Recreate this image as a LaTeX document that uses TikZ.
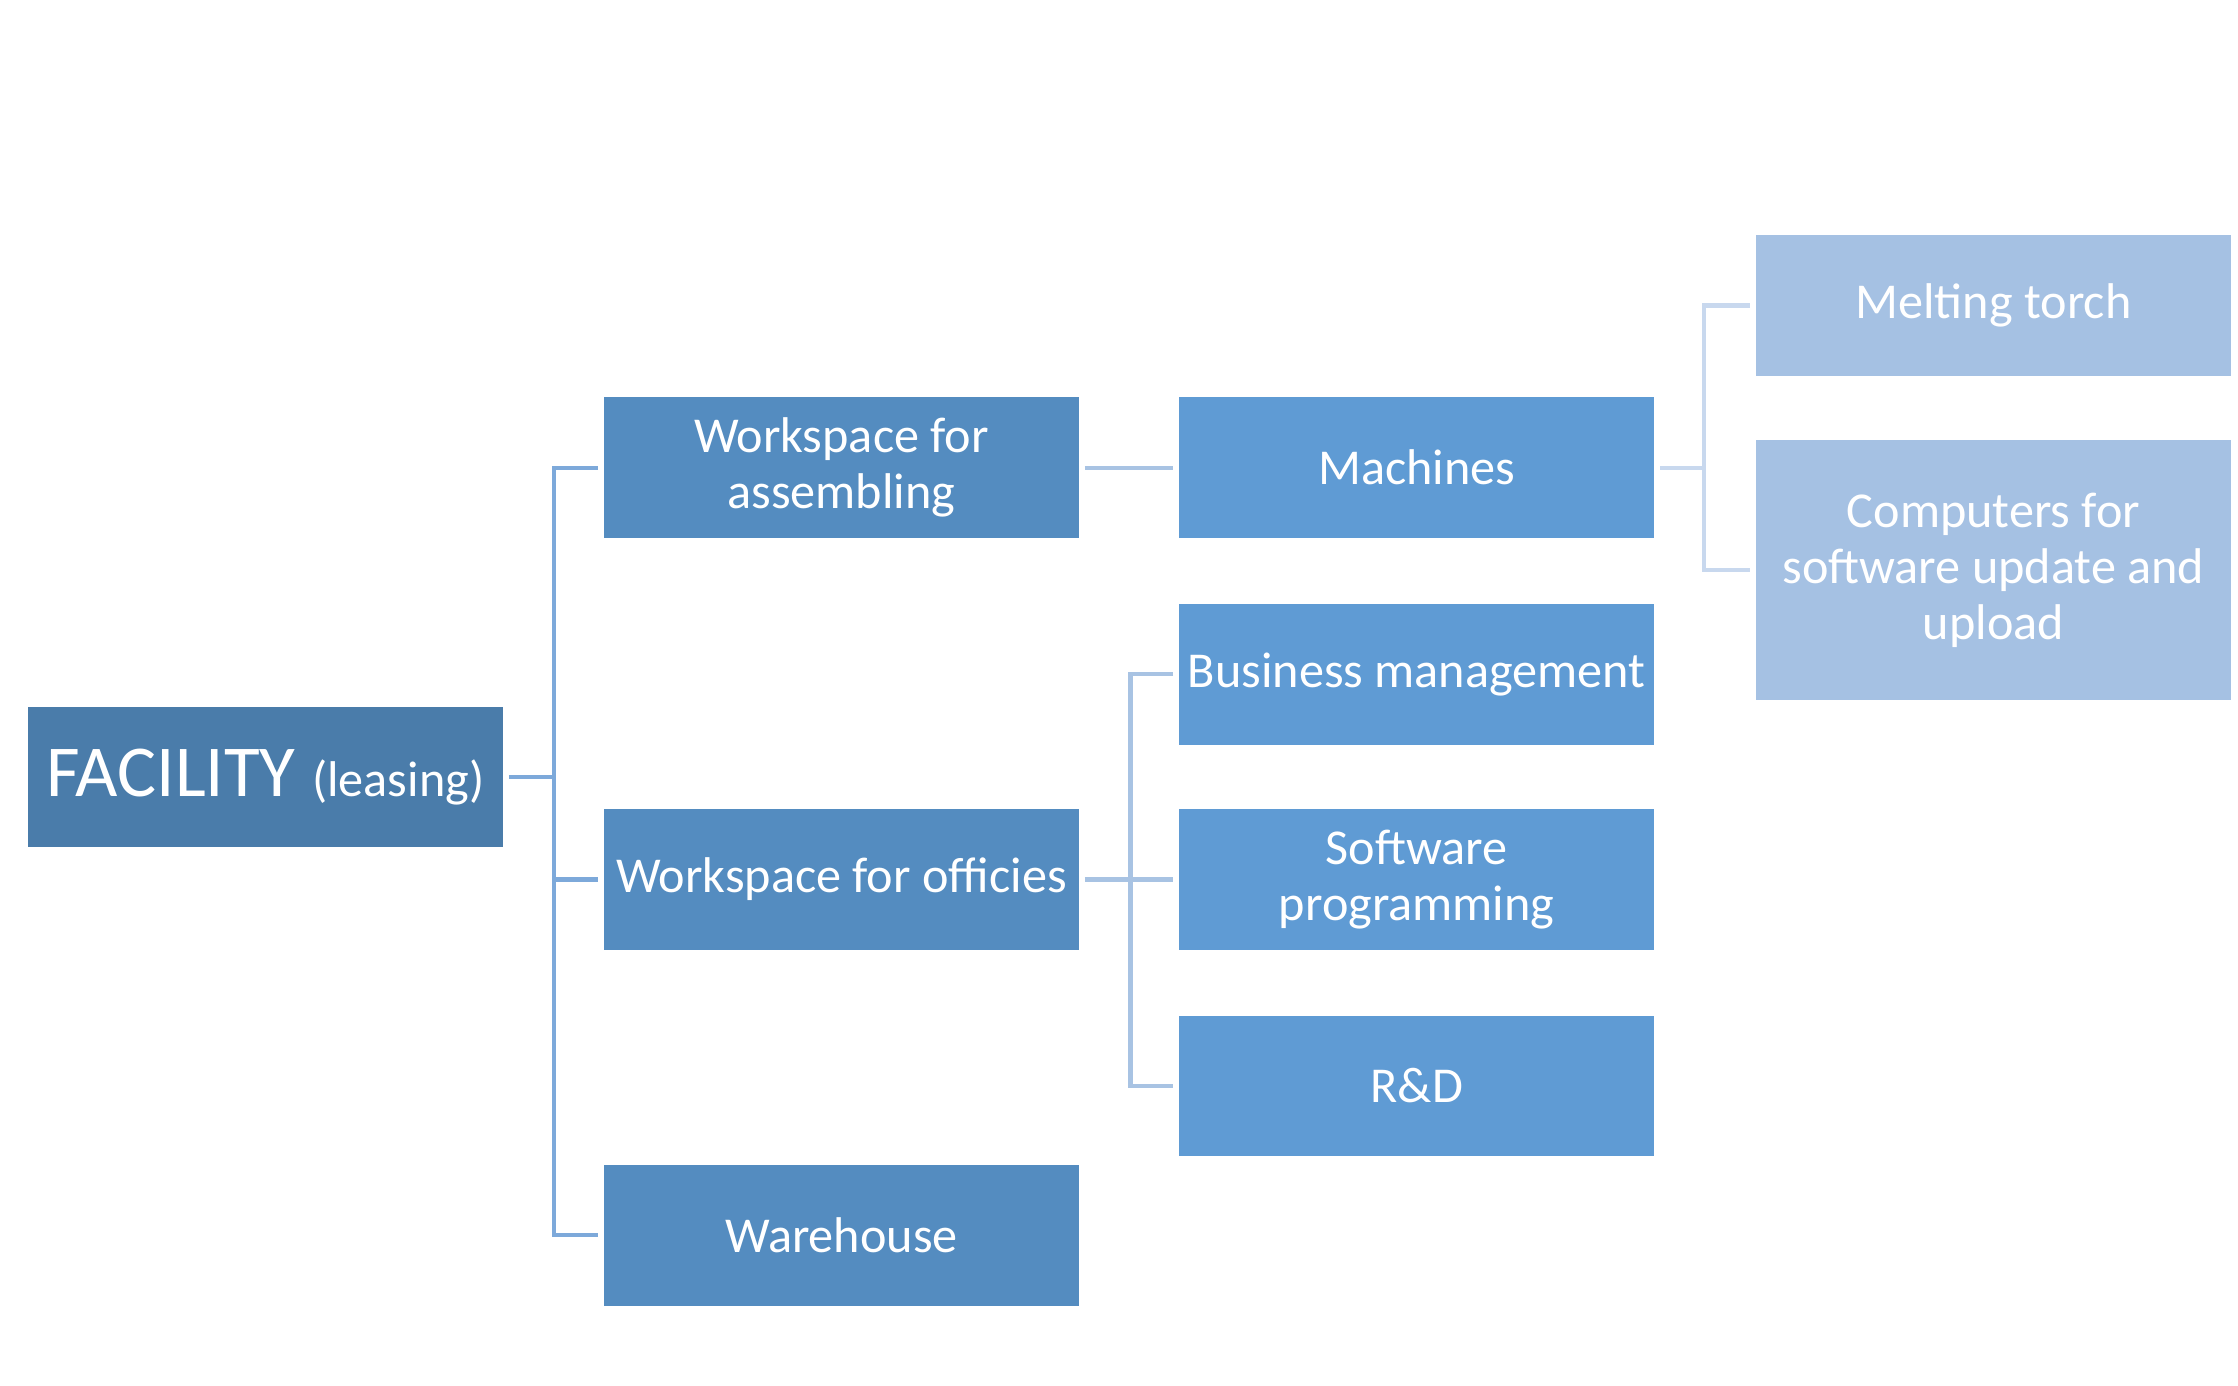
\documentclass[tikz,border=0pt]{standalone}
\usepackage{fontspec}
\setmainfont{Carlito}
\definecolor{cfac}{HTML}{4A7CAA}
\definecolor{cl1}{HTML}{548CC0}
\definecolor{cl2}{HTML}{5F9BD4}
\definecolor{cl3}{HTML}{A5C1E3}
\definecolor{ln1}{HTML}{7DA9DA}
\definecolor{ln2}{HTML}{A8C3E3}
\definecolor{ln3}{HTML}{C8D8EE}
\begin{document}
\begin{tikzpicture}[x=1pt,y=-1pt,
  box/.style={rectangle, inner sep=0pt, minimum width=331pt, minimum height=98pt, text=white, align=center,
    font=\fontsize{35}{39}\selectfont},
  fac/.style={box, fill=cfac},
  lvA/.style={box, fill=cl1},
  lvB/.style={box, fill=cl2},
  lvC/.style={box, fill=cl3},
  conA/.style={draw=ln1, line width=3pt},
  conB/.style={draw=ln2, line width=3pt},
  conC/.style={draw=ln3, line width=3pt}]
\fill[white] (0,0) rectangle (1560,965.5);
\useasboundingbox (0,0) rectangle (1560,965.5);
% nodes
\node[fac] (f) at (185,541.5) {\fontsize{51}{60}\selectfont FACILITY \fontsize{35}{39}\selectfont(leasing)};
\node[lvA] (wa) at (586.5,326) {Workspace for\\assembling};
\node[lvA] (wo) at (586.5,613) {Workspace for officies};
\node[lvA] (wh) at (586.5,861) {Warehouse};
\node[lvB] (ma) at (987.5,326) {Machines};
\node[lvB] (bm) at (987.5,470) {Business management};
\node[lvB] (sp) at (987.5,613) {Software\\programming};
\node[lvB] (rd) at (987.5,757) {R\&D};
\node[lvC] (mt) at (1389.5,213) {Melting torch};
\node[lvC, minimum height=181pt] (co) at (1389.5,397.5) {Computers for\\software update and\\upload};
% trunk coordinates
\coordinate (t1) at (386,0);
\coordinate (t2) at (788,0);
\coordinate (t3) at (1188,0);
% level 1 connectors
\draw[conA] ([xshift=4pt]f.east) -- (f.east -| t1);
\draw[conA] ([xshift=-4pt]wa.west) -- (wa.west -| t1) -- (wh.west -| t1) -- ([xshift=-4pt]wh.west);
\draw[conA] (wo.west -| t1) -- ([xshift=-4pt]wo.west);
% level 2 connectors
\draw[conB] ([xshift=4pt]wa.east) -- ([xshift=-4pt]ma.west);
\draw[conB] ([xshift=4pt]wo.east) -- ([xshift=-4pt]sp.west);
\draw[conB] ([xshift=-4pt]bm.west) -- (bm.west -| t2) -- (rd.west -| t2) -- ([xshift=-4pt]rd.west);
% level 3 connectors
\draw[conC] ([xshift=4pt]ma.east) -- (ma.east -| t3);
\draw[conC] ([xshift=-4pt]mt.west) -- (mt.west -| t3) -- (co.west -| t3) -- ([xshift=-4pt]co.west);
\end{tikzpicture}
\end{document}
